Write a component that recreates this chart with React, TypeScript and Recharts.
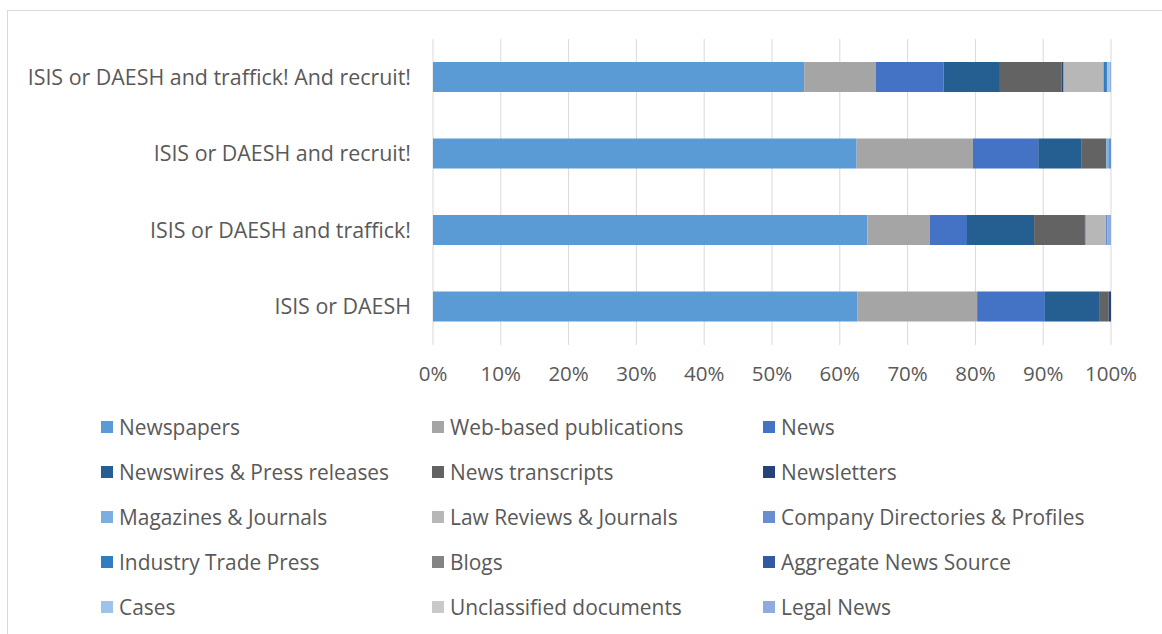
import { Bar, BarChart, CartesianGrid, XAxis, YAxis } from 'recharts'

const categories = [
  'ISIS or DAESH and traffick! And recruit!',
  'ISIS or DAESH and recruit!',
  'ISIS or DAESH and traffick!',
  'ISIS or DAESH',
]

const newspapers = [54.8, 62.3, 64.1, 62.6]
const webBased = [10.6, 17.1, 9.2, 17.7]
const news = [10.0, 9.6, 5.5, 10.0]
const newswires = [8.3, 6.4, 9.9, 8.1]
const transcripts = [9.1, 3.6, 7.5, 1.3]
const newsletters = [0.3, 0, 0.1, 0.35]
const magazines = [0, 0.4, 0, 0]
const lawReviews = [5.9, 0, 3.0, 0]
const companyDirs = [0, 0.3, 0.25, 0]
const tradePress = [0.5, 0, 0, 0]
const blogs = [0, 0, 0, 0]
const aggregate = [0, 0, 0, 0]
const cases = [0.4, 0, 0, 0]
const unclassified = [0, 0, 0, 0]
const legalNews = [0.2, 0, 0.5, 0]

const series = [
  { key: 'Newspapers', values: newspapers, color: '#5b9bd5' },
  { key: 'Web-based publications', values: webBased, color: '#a5a5a5' },
  { key: 'News', values: news, color: '#4472c4' },
  { key: 'Newswires & Press releases', values: newswires, color: '#255e91' },
  { key: 'News transcripts', values: transcripts, color: '#636363' },
  { key: 'Newsletters', values: newsletters, color: '#264478' },
  { key: 'Magazines & Journals', values: magazines, color: '#7cafdd' },
  { key: 'Law Reviews & Journals', values: lawReviews, color: '#b7b7b7' },
  { key: 'Company Directories & Profiles', values: companyDirs, color: '#698ed0' },
  { key: 'Industry Trade Press', values: tradePress, color: '#327dc2' },
  { key: 'Blogs', values: blogs, color: '#848484' },
  { key: 'Aggregate News Source', values: aggregate, color: '#335aa1' },
  { key: 'Cases', values: cases, color: '#9dc3e6' },
  { key: 'Unclassified documents', values: unclassified, color: '#c9c9c9' },
  { key: 'Legal News', values: legalNews, color: '#8faadc' },
]

const ticks = [0, 0.1, 0.2, 0.3, 0.4, 0.5, 0.6, 0.7, 0.8, 0.9, 1]

const data = categories.map((name, i) => {
  const row: Record<string, string | number> = { name }
  series.forEach((s) => {
    row[s.key] = s.values[i]
  })
  return row
})

const font = '"Open Sans", Lato, sans-serif'
const textColor = '#595959'

export default function App() {
  return (
    <div style={{ position: 'absolute', left: 0, top: 0, width: 1162, height: 634, background: '#fff', fontFamily: font }}>
      <div
        style={{
          position: 'absolute',
          left: 7,
          top: 10,
          width: 1170,
          height: 640,
          border: '1px solid #d9d9d9',
        }}
      />
      <BarChart
        width={1162}
        height={634}
        data={data}
        layout="vertical"
        stackOffset="expand"
        margin={{ top: 39, right: 51, bottom: 249, left: 0 }}
        style={{ position: 'absolute', left: 0, top: 0 }}
      >
        <CartesianGrid horizontal={false} stroke="#d9d9d9" />
        <XAxis
          type="number"
          domain={[0, 1]}
          ticks={ticks}
          height={40}
          axisLine={false}
          tickLine={false}
          tickMargin={15}
          tickFormatter={(v) => `${Math.round(v * 100)}%`}
          tick={{ fontSize: 20.5, fill: textColor, fontFamily: font }}
        />
        <YAxis
          type="category"
          dataKey="name"
          width={433}
          axisLine={false}
          tickLine={false}
          tickMargin={16}
          tick={{ fontSize: 21.4, fill: textColor, fontFamily: font }}
        />
        {series.map((s) => (
          <Bar key={s.key} dataKey={s.key} stackId="a" fill={s.color} barSize={30} isAnimationActive={false} />
        ))}
      </BarChart>
      {series.map((s, i) => {
        const col = i % 3
        const row = Math.floor(i / 3)
        return (
          <div
            key={s.key}
            style={{
              position: 'absolute',
              left: 101 + col * 331,
              top: 427 + row * 45 - 15,
              height: 30,
              display: 'flex',
              alignItems: 'center',
              fontSize: 20.9,
              color: textColor,
              whiteSpace: 'nowrap',
            }}
          >
            <span style={{ width: 12, height: 12, background: s.color, marginRight: 6, display: 'inline-block' }} />
            {s.key}
          </div>
        )
      })}
    </div>
  )
}
